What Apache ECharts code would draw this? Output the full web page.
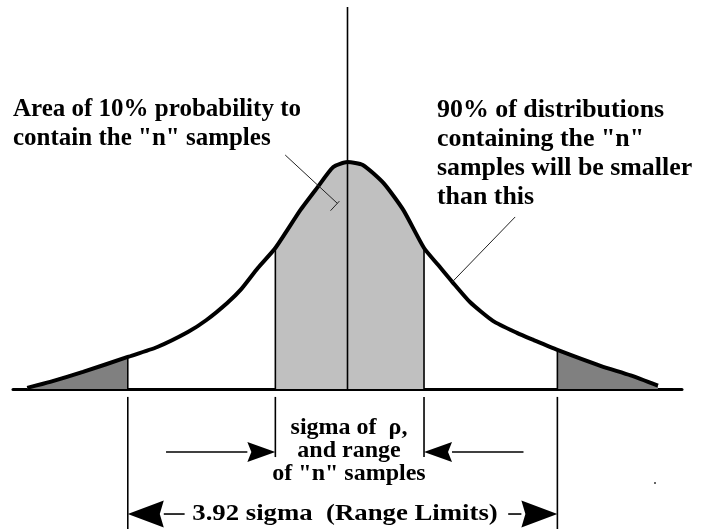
<!DOCTYPE html>
<html>
<head>
<meta charset="utf-8">
<title>3.92 sigma range limits</title>
<script src="https://cdn.jsdelivr.net/npm/echarts@6/dist/echarts.min.js"></script>
<style>
  html, body { margin: 0; padding: 0; background: #fff; }
  #chart { width: 702px; height: 529px; }
</style>
</head>
<body>
<div id="chart"></div>
<script>
// curve: x in sigma units, y relative to the peak
const curveX = [-2.93, -2.72, -2.42, -2.01, -1.74, -1.46, -1.29, -1.10, -0.97, -0.82, -0.66, -0.43, -0.28, -0.13, 0.00,
                0.14, 0.33, 0.51, 0.70, 0.83, 0.96, 1.12, 1.33, 1.55, 1.70, 1.92, 2.32, 2.59, 2.84];
const curveY = [0.005, 0.031, 0.075, 0.141, 0.185, 0.251, 0.304, 0.379, 0.441, 0.533, 0.621, 0.789, 0.885, 0.978, 1.000,
                0.987, 0.907, 0.789, 0.621, 0.546, 0.471, 0.383, 0.300, 0.247, 0.216, 0.172, 0.101, 0.060, 0.015];

const innerCut = [-0.66, 0.70];   // light grey band
const outerCut = [-2.01, 1.92];   // range limits (dark tails)
const centerTop = 1.683;
const dropStart = -0.035;
const innerDropEnd = -0.30;
const outerDropEnd = -0.617;

// arrows below the axis: [tailX, tipX, rowIndex]
const arrowRows = [-0.278, -0.551];
const arrows = [
    [-1.66, -0.66, 0],
    [1.61, 0.70, 0],
    [-1.49, -2.01, 1],
    [1.47, 1.92, 1]
];

// pointer lines: [x1, y1, x2, y2, hasTick]
const leaders = [
    [-0.57, 1.031, -0.093, 0.818, 1],
    [1.534, 0.758, 0.957, 0.471, 0]
];

const noteLeft = ['Area of 10% probability to', 'contain the "n" samples'];
const noteRight = ['90% of distributions', 'containing the "n"', 'samples will be smaller', 'than this'];
const noteCenter = ['sigma of  \u03c1,', 'and range', 'of "n" samples'];
const noteRange = '3.92 sigma  (Range Limits)';

const chart = echarts.init(document.getElementById('chart'));

const curve = curveX.map((x, i) => [x, curveY[i]]);
function yAt(x) {
    return curveY[curveX.indexOf(x)];
}

const guides = [[0, 0, centerTop]];
innerCut.forEach(x => {
    guides.push([x, 0, yAt(x)]);
    guides.push([x, dropStart, innerDropEnd]);
});
outerCut.forEach(x => {
    guides.push([x, 0, yAt(x)]);
    guides.push([x, dropStart, outerDropEnd]);
});

function areaSeries(points, color) {
    return {
        type: 'line', data: points, symbol: 'none', smooth: 0.2,
        lineStyle: { width: 0 }, areaStyle: { color: color, opacity: 1 },
        silent: true, z: 1
    };
}

const headSizes = [[28, 10], [36, 13.5]];

function textLines(lines, x, firstY, step, size, align, sx) {
    return lines.map((t, i) => ({
        type: 'text', x: x, y: firstY + i * step, scaleX: sx || 1,
        style: {
            text: t, fill: '#000',
            font: 'bold ' + size + 'px "Liberation Serif", serif',
            textAlign: align, align: align,
            textVerticalAlign: 'middle', verticalAlign: 'middle'
        }
    }));
}

chart.setOption({
    animation: false,
    backgroundColor: '#fff',
    grid: { left: 13, right: 20, top: 0, bottom: 0 },
    xAxis: {
        type: 'value', min: -3.06, max: 3.06,
        axisLine: { show: true, onZero: true, lineStyle: { color: '#000', width: 3 } },
        axisTick: { show: false }, axisLabel: { show: false }, splitLine: { show: false }
    },
    yAxis: {
        type: 'value', min: -0.617, max: 1.714, show: false,
        splitLine: { show: false }
    },
    series: [
        areaSeries(curve.filter(p => p[0] <= outerCut[0]), '#808080'),
        areaSeries(curve.filter(p => p[0] >= innerCut[0] && p[0] <= innerCut[1]), '#c0c0c0'),
        areaSeries(curve.filter(p => p[0] >= outerCut[1]), '#808080'),
        {
            type: 'custom', data: guides, silent: true, clip: false, z: 2,
            renderItem: function (params, api) {
                const a = api.coord([api.value(0), api.value(1)]);
                const b = api.coord([api.value(0), api.value(2)]);
                return {
                    type: 'line',
                    shape: { x1: a[0], y1: a[1], x2: b[0], y2: b[1] },
                    style: { stroke: '#000', lineWidth: 1.6 }
                };
            }
        },
        {
            type: 'line', data: curve, symbol: 'none', smooth: 0.2, silent: true, z: 3,
            lineStyle: { color: '#000', width: 4 }
        },
        {
            type: 'custom', data: arrows, silent: true, clip: false, z: 4,
            renderItem: function (params, api) {
                const row = api.value(2);
                const y = arrowRows[row];
                const tail = api.coord([api.value(0), y]);
                const tip = api.coord([api.value(1), y]);
                const d = tip[0] > tail[0] ? 1 : -1;
                const len = headSizes[row][0], half = headSizes[row][1];
                const base = tip[0] - d * len;
                return {
                    type: 'group',
                    children: [
                        {
                            type: 'line',
                            shape: { x1: tail[0], y1: tail[1], x2: base, y2: tip[1] },
                            style: { stroke: '#000', lineWidth: 1.6 }
                        },
                        {
                            type: 'polygon',
                            shape: { points: [[tip[0], tip[1]], [base, tip[1] - half], [base + d * 4, tip[1]], [base, tip[1] + half]] },
                            style: { fill: '#000' }
                        }
                    ]
                };
            }
        },
        {
            type: 'custom', data: leaders, silent: true, clip: false, z: 4,
            renderItem: function (params, api) {
                const a = api.coord([api.value(0), api.value(1)]);
                const b = api.coord([api.value(2), api.value(3)]);
                const children = [{
                    type: 'line',
                    shape: { x1: a[0], y1: a[1], x2: b[0], y2: b[1] },
                    style: { stroke: '#222', lineWidth: 1 }
                }];
                if (api.value(4)) {
                    const dx = b[0] - a[0], dy = b[1] - a[1];
                    const n = Math.sqrt(dx * dx + dy * dy);
                    const px = -dy / n, py = dx / n;
                    children.push({
                        type: 'line',
                        shape: { x1: b[0] + px * 10, y1: b[1] + py * 10, x2: b[0] - px * 3, y2: b[1] - py * 3 },
                        style: { stroke: '#222', lineWidth: 1 }
                    });
                }
                return { type: 'group', children: children };
            }
        }
    ],
    graphic: [].concat(
        textLines(noteLeft, 13, 109.5, 29, 25, 'left'),
        textLines(noteRight, 437, 110.5, 29, 25, 'left', 1.035),
        textLines(noteCenter, 349, 428, 23, 24, 'center'),
        textLines([noteRange], 345, 513.5, 0, 24, 'center', 1.115),
        [{ type: 'rect', shape: { x: 654, y: 482, width: 2, height: 2 }, style: { fill: '#666' } }]
    )
});

window.addEventListener('resize', () => chart.resize());
</script>
</body>
</html>
